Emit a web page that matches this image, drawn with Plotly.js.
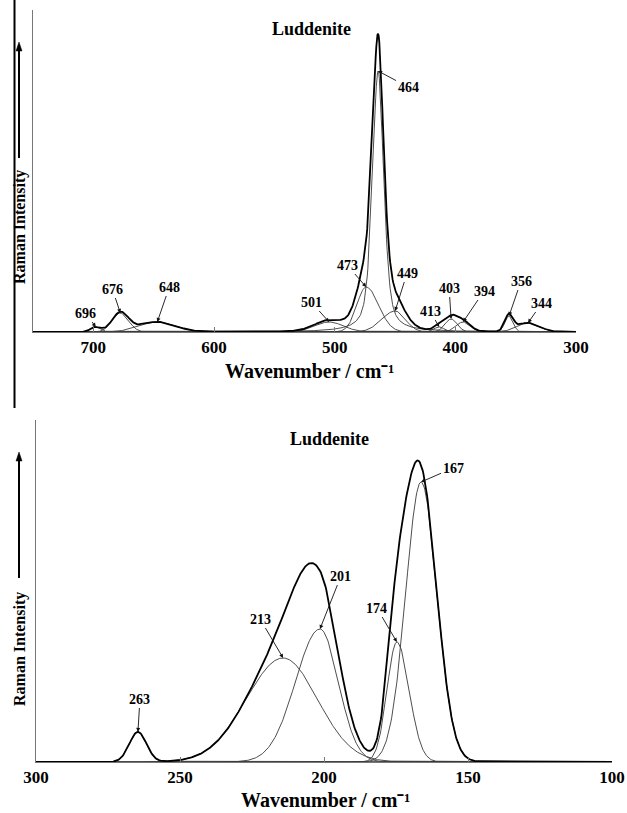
<!DOCTYPE html>
<html>
<head>
<meta charset="utf-8">
<script src="https://cdn.plot.ly/plotly-3.0.1.min.js"></script>
<style>html,body{margin:0;padding:0;background:#fff;}#chart{width:627px;height:813px;}</style>
</head>
<body>
<div id="chart"></div>
<script>
// ---- Data ----
// Upper panel (750-300 cm-1): fitted band components
const topLabels    = ['696','676','648','501','473','464','449','413','403','394','356','344'];
const topCenters   = [698, 677.6, 647, 504.6, 473.9, 464, 449.9, 413.4, 403.5, 393.6, 355.5, 339.8];
const topHeights   = [5, 19, 10, 10, 45, 261, 21, 5, 13, 10, 16, 9];
const topWidthsHi  = [10, 16, 35, 28, 18, 11, 26, 10, 12, 14, 8, 22];   // FWHM on high-wavenumber side
const topWidthsLo  = [10, 16, 35, 28, 24, 11, 20, 10, 12, 14, 8, 22];   // FWHM on low-wavenumber side
const topLorentz   = [0, 0, 0, 0, 0, 0.5, 0, 0, 0, 0, 0, 0];

// Lower panel (300-100 cm-1): fitted band components
const botLabels    = ['263','213','201','174','167'];
const botCenters   = [264.6, 214.2, 201.4, 174.7, 166.3];
const botHeights   = [30, 104, 133, 120, 280];
const botWidthsHi  = [7, 30, 20, 8, 12.5];
const botWidthsLo  = [7, 28, 15, 10, 13];
const botLorentz   = [0, 0, 0, 0, 0];

const topTicks = [700, 600, 500, 400, 300];
const botTicks = [300, 250, 200, 150, 100];

// ---- styling (label offsets in px from band peak) ----
const topOffsets = [[-10,-14],[-8,-24],[12,-35],[-18,-20],[-19,-22],[30,16],[12,-38],[-9,-16],[-2,-31],[21,-31],[12,-35],[14,-20]];
const botOffsets = [[2,-33],[-23,-39],[21,-53],[-20,-34],[32,-14]];

const SERIF = 'Liberation Serif';

function band(x, c, h, wHi, wLo, eta) {
  const w = x >= c ? wHi : wLo;
  const d = (x - c) / w;
  return h * ((1 - eta) * Math.exp(-4 * Math.LN2 * d * d) + eta / (1 + 4 * d * d));
}
function grid(a, b, step) { const g = []; for (let v = a; v <= b + 1e-9; v += step) g.push(+v.toFixed(3)); return g; }

function buildTraces(xs, centers, heights, wHi, wLo, lor, xa, ya) {
  const traces = [];
  const sum = xs.map(() => 0);
  for (let i = 0; i < centers.length; i++) {
    const ys = xs.map(x => band(x, centers[i], heights[i], wHi[i], wLo[i], lor[i]));
    ys.forEach((v, k) => sum[k] += v);
    traces.push({x: xs, y: ys, type: 'scatter', mode: 'lines', xaxis: xa, yaxis: ya,
      line: {color: '#3a3a3a', width: 0.9}, hoverinfo: 'skip'});
  }
  traces.push({x: xs, y: sum, type: 'scatter', mode: 'lines', xaxis: xa, yaxis: ya,
    line: {color: '#000', width: 1.8}, hoverinfo: 'skip'});
  return traces;
}

const xsTop = grid(300, 750, 0.5);
const xsBot = grid(100, 300, 0.25);
const data = buildTraces(xsTop, topCenters, topHeights, topWidthsHi, topWidthsLo, topLorentz, 'x', 'y')
  .concat(buildTraces(xsBot, botCenters, botHeights, botWidthsHi, botWidthsLo, botLorentz, 'x2', 'y2'));

const W = 627, H = 813;
const px = v => v / W, py = v => 1 - v / H;

const annotations = [];
function peakLabels(labels, centers, heights, offs, xr, yr) {
  labels.forEach((t, i) => {
    annotations.push({x: centers[i], y: heights[i], xref: xr, yref: yr, text: '<b>' + t + '</b>',
      showarrow: true, ax: offs[i][0], ay: offs[i][1], arrowhead: 2, arrowsize: 0.9, arrowwidth: 0.9,
      arrowcolor: '#111', standoff: 0, font: {family: SERIF, size: 14, color: '#000'}});
  });
}
peakLabels(topLabels, topCenters, topHeights, topOffsets, 'x', 'y');
peakLabels(botLabels, botCenters, botHeights, botOffsets, 'x2', 'y2');

function paperText(t, x, y, size, angle) {
  annotations.push({text: t, x: px(x), y: py(y), xref: 'paper', yref: 'paper', showarrow: false,
    xanchor: 'center', yanchor: 'middle', textangle: angle || 0, font: {family: SERIF, size: size, color: '#000'}});
}
paperText('<b>Luddenite</b>', 311, 29, 18);
paperText('<b>Luddenite</b>', 329, 439, 18);
paperText('<b>Wavenumber / cm\u207B\u00B9</b>', 309, 371, 20);
paperText('<b>Wavenumber / cm\u207B\u00B9</b>', 325, 800, 20);
paperText('<b>Raman Intensity</b>', 20, 227, 16, -90);
paperText('<b>Raman Intensity</b>', 20, 649, 16, -90);

// intensity arrows drawn as shapes (shaft + head)
const shapes = [{type: 'line', xref: 'paper', yref: 'paper', x0: px(14.5), x1: px(14.5), y0: 1, y1: py(408),
  line: {color: '#000', width: 2}}];
[[42, 158], [452, 578]].forEach(([head, tail]) => {
  shapes.push({type: 'line', xref: 'paper', yref: 'paper', x0: px(19), x1: px(19), y0: py(tail), y1: py(head + 7),
    line: {color: '#000', width: 2}});
  shapes.push({type: 'path', xref: 'paper', yref: 'paper',
    path: 'M ' + px(16) + ' ' + py(head + 9) + ' L ' + px(22) + ' ' + py(head + 9) + ' L ' + px(19) + ' ' + py(head) + ' Z',
    fillcolor: '#000', line: {color: '#000', width: 0.5}});
});

function xAxis(dom, range, ticks, anchor) {
  return {domain: dom, range: range, anchor: anchor, tickmode: 'array', tickvals: ticks,
    ticktext: ticks.map(t => '<b>' + t + '</b>'), ticks: 'inside', ticklen: 5, tickcolor: '#777',
    showline: true, linecolor: '#777', linewidth: 1, showgrid: false, zeroline: false,
    tickfont: {family: SERIF, size: 17, color: '#000'}, fixedrange: true};
}
function yAxis(dom, range, anchor) {
  return {domain: dom, range: range, anchor: anchor, showline: true, linecolor: '#777', linewidth: 1,
    showticklabels: false, ticks: '', showgrid: false, zeroline: false, fixedrange: true};
}

const layout = {
  width: W, height: H, margin: {l: 0, r: 0, t: 0, b: 0},
  paper_bgcolor: '#fff', plot_bgcolor: '#fff', showlegend: false,
  xaxis: xAxis([px(33), px(576)], [750, 300], topTicks, 'y'),
  yaxis: yAxis([py(332), py(10)], [0, 322], 'x'),
  xaxis2: xAxis([px(36), px(612)], [300, 100], botTicks, 'y2'),
  yaxis2: yAxis([py(762), py(420)], [0, 342], 'x2'),
  annotations: annotations,
  shapes: shapes
};

Plotly.newPlot('chart', data, layout, {staticPlot: true, displayModeBar: false});
</script>
</body>
</html>
